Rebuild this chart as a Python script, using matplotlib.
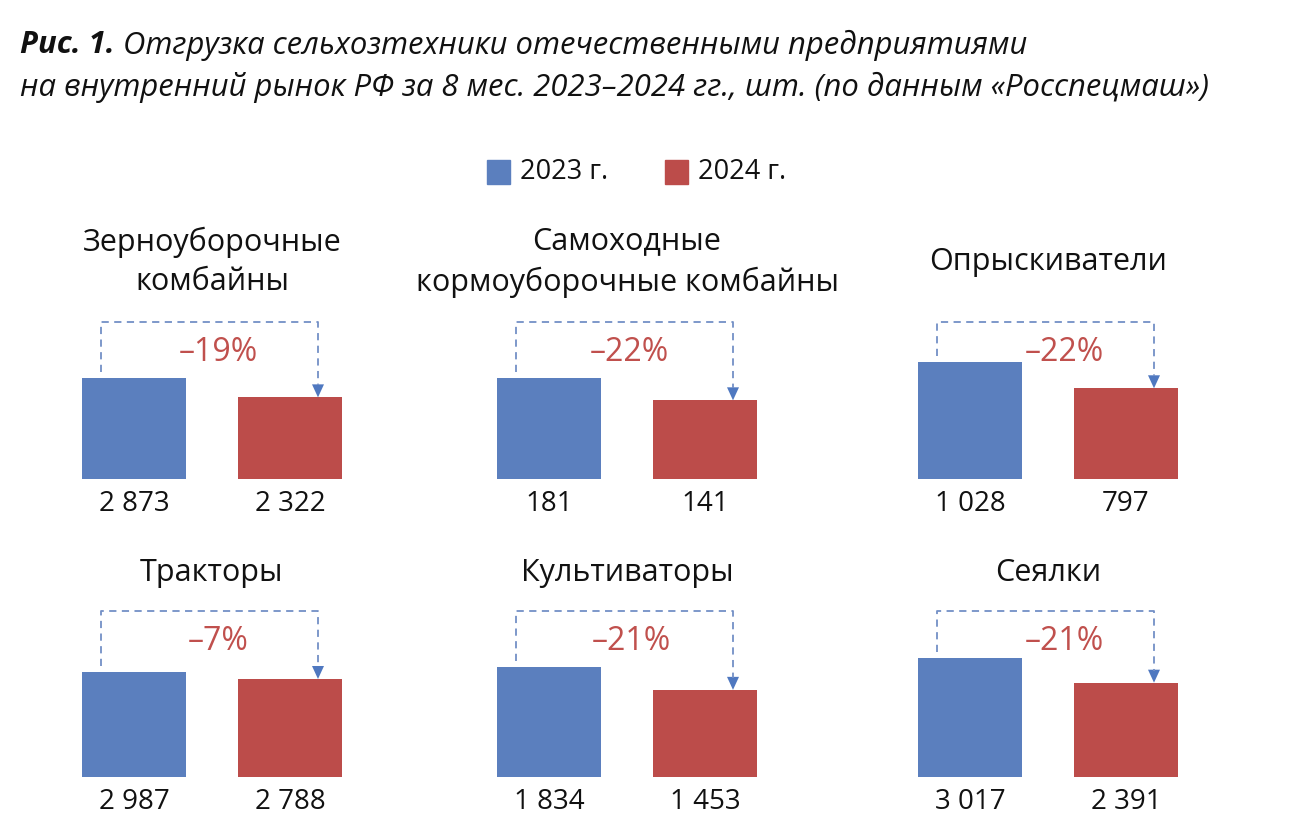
import matplotlib
matplotlib.use("Agg")
import matplotlib.pyplot as plt
from matplotlib.patches import Rectangle

# data
categories = ["Зерноуборочные\nкомбайны", "Самоходные\nкормоуборочные комбайны", "Опрыскиватели",
              "Тракторы", "Культиваторы", "Сеялки"]
values_2023 = [2873, 181, 1028, 2987, 1834, 3017]
values_2024 = [2322, 141, 797, 2788, 1453, 2391]
years = ["2023 г.", "2024 г."]
title_bold = "Рис. 1."
title_rest = " Отгрузка сельхозтехники отечественными предприятиями"
title_line2 = "на внутренний рынок РФ за 8 мес. 2023–2024 гг., шт. (по данным «Росспецмаш»)"

# every panel has its own scale: pixel height of the 2023 bar
bar_px = [101, 101, 117, 105, 110, 119]
label_x = [136, 132, 146, 136, 134, 146]  # px offset of the % label inside a panel

W, H = 1292, 826
BLUE = "#5B7FBE"
RED = "#BC4C4A"
DASH = "#7390C6"

plt.rcParams['font.family'] = ['Open Sans', 'DejaVu Sans']

fig = plt.figure(figsize=(W / 100, H / 100), dpi=100)


def fx(x):
    return x / W


def fy(y):
    return 1 - y / H


def fmt(v):
    return f"{v:,}".replace(",", " ")


col_left = [82, 497, 918]
row_base = [479, 777]
row_top = [322, 611]
title_y = [262, 573]
panel_w = 260
bar_w = 104
centers = [bar_w / 2, panel_w - bar_w / 2]

for i, name in enumerate(categories):
    r, c = divmod(i, 3)
    left, base, top = col_left[c], row_base[r], row_top[r]
    h = base - top
    ax = fig.add_axes([fx(left), fy(base), panel_w / W, h / H])
    v23, v24 = values_2023[i], values_2024[i]
    ymax = v23 * h / bar_px[i]
    k = ymax / h  # data units per pixel
    ax.bar(centers, [v23, v24], width=bar_w, color=[BLUE, RED])
    ax.set_xlim(0, panel_w)
    ax.set_ylim(0, ymax)
    ax.axis("off")

    # dashed connector with arrow head
    xl, xr = 19, panel_w - 24
    ax.plot([xl, xl, xr, xr], [v23 + 6 * k, ymax, ymax, v24 + 12 * k],
            color=DASH, lw=1.3, dashes=(4, 3), clip_on=False)
    ax.fill([xr - 6, xr + 6, xr], [v24 + 13 * k, v24 + 13 * k, v24],
            color="#4F78C0", lw=0, clip_on=False)

    pct = round((v24 - v23) / v23 * 100)
    ax.text(label_x[i], ymax - 31 * k, f"–{abs(pct)}%", ha="center", va="center",
            fontsize=23, color="#C0504D", clip_on=False)

    for cx, v in zip(centers, [v23, v24]):
        ax.annotate(fmt(v), xy=(cx, 0), xytext=(0, -8), textcoords="offset points",
                    ha="center", va="top", fontsize=20, color="#111111")

    fig.text(fx(left + panel_w / 2), fy(title_y[r]), name, ha="center", va="center",
             fontsize=22, color="#111111", linespacing=1.42)

# legend
for x0, col, lab in zip([487, 665], [BLUE, RED], years):
    fig.patches.append(Rectangle((fx(x0), fy(184)), 23 / W, 24 / H, color=col,
                                 transform=fig.transFigure))
    fig.text(fx(x0 + 33), fy(172), lab, ha="left", va="center", fontsize=19.5, color="#111111")

# title
t1 = fig.text(fx(20), fy(45), title_bold, ha="left", va="center", fontsize=22.3,
              fontweight="bold", fontstyle="italic", color="#111111")
renderer = fig.canvas.get_renderer()
bb = t1.get_window_extent(renderer=renderer)
fig.text(bb.x1 / W, fy(45), title_rest, ha="left", va="center", fontsize=22.3,
         fontstyle="italic", color="#111111")
fig.text(fx(20), fy(87), title_line2, ha="left", va="center", fontsize=22.3,
         fontstyle="italic", color="#111111")

fig.savefig("out.png", dpi=100)
